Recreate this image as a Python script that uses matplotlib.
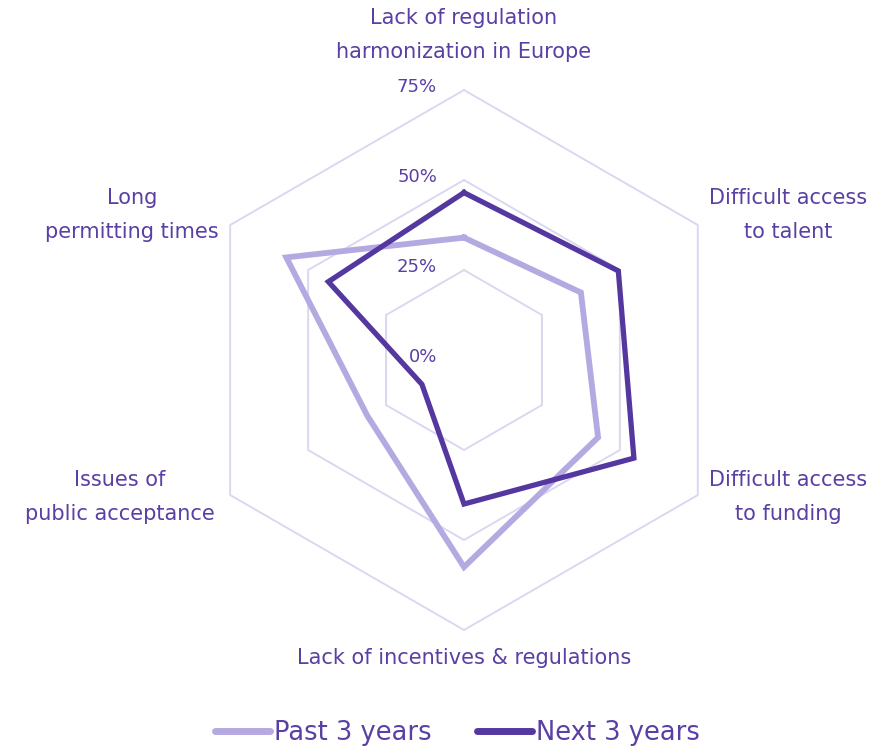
import numpy as np
import matplotlib
matplotlib.use("Agg")
import matplotlib.pyplot as plt

categories = ["Lack of regulation\nharmonization in Europe", "Difficult access\nto talent",
              "Difficult access\nto funding", "Lack of incentives & regulations",
              "Issues of\npublic acceptance", "Long\npermitting times"]
past_3_years = [34, 37.5, 43, 57.5, 31, 57]
next_3_years = [46.5, 49.5, 54.5, 40, 13.5, 43.5]
ring_levels = [25, 50, 75]
ring_labels = ["25%", "50%", "75%"]

TEXT = "#5a3fa4"
PAST = "#b5a9e1"
NEXT = "#55389f"
GRID = "#dcd7f1"

plt.rcParams['font.family'] = ['DejaVu Sans']

fig = plt.figure(figsize=(8.73, 7.47), dpi=100)
ax = fig.add_axes([0.2222, 0.1566, 0.6186, 0.7229], projection='polar')
ax.set_theta_zero_location('N')
ax.set_theta_direction(-1)
ax.set_ylim(0, 75)
ax.grid(False)
ax.spines['polar'].set_visible(False)
ax.set_xticks([])
ax.set_yticks([])
ax.patch.set_alpha(0)

n = len(categories)
angles = np.linspace(0, 2 * np.pi, n, endpoint=False)
closed = np.concatenate([angles, angles[:1]])

for lv in ring_levels:
    ax.plot(closed, [lv] * (n + 1), color=GRID, lw=1.4, zorder=1, clip_on=False)

def close(v):
    return list(v) + [v[0]]

ax.plot(closed, close(past_3_years), color=PAST, lw=4.2, solid_joinstyle='miter',
        label="Past 3 years", zorder=3, clip_on=False)
ax.plot(closed, close(next_3_years), color=NEXT, lw=3.8, solid_joinstyle='miter',
        label="Next 3 years", zorder=4, clip_on=False)

# radial labels
for lv, lab in zip([0] + ring_levels, ["0%"] + ring_labels):
    ax.annotate(lab, xy=(0, lv), xytext=(-27, 3), textcoords='offset pixels',
                ha='right', va='center', fontsize=13, color=TEXT)

# category labels
offsets = [(0, 55), (90, 10), (90, -2), (0, -28), (-110, -2), (-98, 10)]
for ang, lab, (dx, dy) in zip(angles, categories, offsets):
    ax.annotate(lab, xy=(ang, 75), xytext=(dx, dy), textcoords='offset pixels',
                ha='center', va='center', fontsize=15, color=TEXT,
                linespacing=1.85, annotation_clip=False)

leg = fig.legend(loc='center', bbox_to_anchor=(0.524, 1 - 733 / 747), ncol=2,
                 frameon=False, fontsize=18.5, handlelength=2.15, handletextpad=0.15,
                 columnspacing=1.75, labelcolor=TEXT)
for h in leg.get_lines():
    h.set_linewidth(5)
    h.set_solid_capstyle('round')

fig.savefig("out.png", dpi=100)
